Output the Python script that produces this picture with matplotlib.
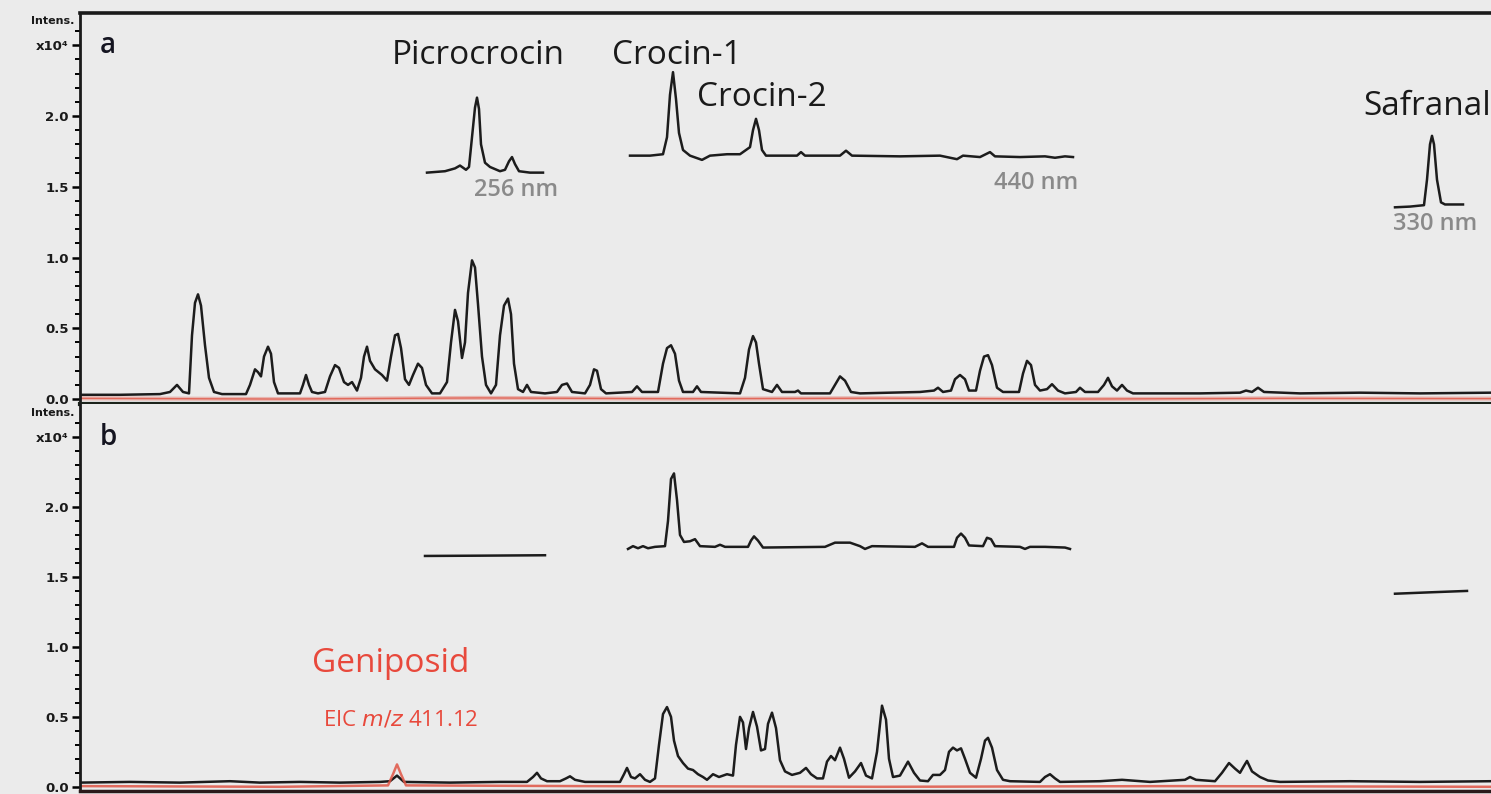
import matplotlib
matplotlib.use("Agg")
import matplotlib.pyplot as plt

# --- data (retention time in min, intensity x10^4) ---
# panel a, TIC (black)
a_tic_t = [0.0, 2.0, 4.0, 4.5, 4.85, 5.15, 5.45, 5.6, 5.75, 5.9, 6.05, 6.25, 6.45, 6.7, 7.1,
           8.3, 8.5, 8.75, 8.9, 9.05, 9.2, 9.4, 9.55, 9.7, 9.9,
           11.0, 11.15, 11.3, 11.45, 11.6, 11.9, 12.25, 12.5, 12.75, 12.95, 13.2, 13.4, 13.6, 13.85,
           14.05, 14.2, 14.35, 14.5, 14.75, 15.1, 15.35, 15.55, 15.75, 15.9, 16.05, 16.25, 16.45,
           16.65, 16.9, 17.1, 17.3, 17.6, 18.0, 18.35, 18.55, 18.75, 18.9, 19.1, 19.25, 19.4, 19.6,
           19.75, 19.9, 20.1, 20.3, 20.55, 20.8, 21.0, 21.2, 21.4, 21.55, 21.7, 21.9, 22.15, 22.35,
           22.55, 23.25, 23.85, 24.1, 24.35, 24.6, 25.25, 25.5, 25.7, 25.85, 26.05, 26.3,
           27.6, 27.85, 28.1, 28.9, 29.15, 29.35, 29.55, 29.75, 29.95, 30.15, 30.65, 30.85, 31.05,
           33.0, 33.25, 33.45, 33.65, 33.8, 33.95, 34.15, 34.6, 34.85, 35.1, 35.75, 35.9, 36.05,
           37.5, 37.75, 38.0, 38.25, 38.55, 39.0, 42.0, 42.7, 42.9, 43.15, 43.55, 43.75, 44.0,
           44.25, 44.45, 44.8, 45.0, 45.2, 45.4, 45.6, 45.85, 46.15, 46.95, 47.15, 47.35, 47.55,
           47.75, 48.0, 48.35, 48.6, 48.9, 49.25, 49.8, 50.0, 50.25, 50.9, 51.2, 51.4, 51.6, 51.85,
           52.1, 52.35, 52.65, 56.0, 58.0, 58.3, 58.6, 58.9, 59.2, 61.0, 64.0, 67.0, 70.55]
a_tic_i = [0.03, 0.03, 0.035, 0.05, 0.10, 0.05, 0.04, 0.45, 0.68, 0.74, 0.66, 0.38, 0.15, 0.05, 0.035,
           0.035, 0.10, 0.21, 0.19, 0.16, 0.30, 0.37, 0.32, 0.12, 0.04,
           0.04, 0.10, 0.17, 0.10, 0.05, 0.04, 0.05, 0.16, 0.24, 0.22, 0.12, 0.10, 0.12, 0.06,
           0.15, 0.30, 0.37, 0.27, 0.21, 0.17, 0.13, 0.30, 0.45, 0.46, 0.36, 0.14, 0.10,
           0.17, 0.25, 0.22, 0.10, 0.04, 0.04, 0.12, 0.40, 0.63, 0.55, 0.29, 0.40, 0.75, 0.98,
           0.93, 0.67, 0.30, 0.10, 0.04, 0.10, 0.45, 0.66, 0.71, 0.60, 0.25, 0.07, 0.05, 0.10,
           0.05, 0.04, 0.05, 0.10, 0.11, 0.05, 0.04, 0.10, 0.21, 0.20, 0.07, 0.04,
           0.05, 0.09, 0.05, 0.05, 0.25, 0.36, 0.38, 0.32, 0.13, 0.05, 0.05, 0.09, 0.05,
           0.04, 0.15, 0.35, 0.445, 0.40, 0.25, 0.07, 0.05, 0.10, 0.05, 0.05, 0.06, 0.04,
           0.04, 0.10, 0.16, 0.13, 0.05, 0.04, 0.05, 0.06, 0.08, 0.05, 0.06, 0.14, 0.17,
           0.14, 0.06, 0.06, 0.20, 0.30, 0.31, 0.24, 0.08, 0.05, 0.05, 0.18, 0.27, 0.24,
           0.10, 0.06, 0.07, 0.105, 0.06, 0.04, 0.05, 0.08, 0.05, 0.05, 0.10, 0.15, 0.09, 0.06,
           0.10, 0.06, 0.04, 0.04, 0.045, 0.06, 0.05, 0.08, 0.05, 0.04, 0.045, 0.04, 0.045]

# panel a, EIC (red, flat)
a_eic_t = [0.0, 10.0, 20.0, 30.0, 40.0, 50.0, 60.0, 70.55]
a_eic_i = [0.005, 0.0, 0.008, 0.002, 0.006, 0.0, 0.005, 0.003]

# panel a, UV insets (offset traces)
a_uv256_t = [17.35, 18.25, 18.75, 19.0, 19.3, 19.45, 19.6, 19.75, 19.85, 19.95, 20.05, 20.25,
             20.5, 21.0, 21.25, 21.45, 21.6, 21.75, 21.95, 22.5, 23.15]
a_uv256_i = [1.60, 1.61, 1.63, 1.65, 1.62, 1.64, 1.85, 2.06, 2.13, 2.05, 1.80, 1.67,
             1.64, 1.61, 1.62, 1.68, 1.71, 1.66, 1.61, 1.60, 1.60]
a_uv440_t = [27.5, 28.5, 29.15, 29.35, 29.5, 29.65, 29.8, 29.95, 30.15, 30.5, 31.1, 31.5, 32.35,
             33.0, 33.5, 33.65, 33.8, 33.95, 34.1, 34.3, 35.85, 36.05, 36.25, 38.0, 38.3, 38.6,
             41.0, 43.0, 43.85, 44.15, 45.0, 45.5, 45.75, 47.0, 48.25, 48.75, 49.25, 49.65]
a_uv440_i = [1.72, 1.72, 1.73, 1.85, 2.15, 2.31, 2.12, 1.88, 1.76, 1.72, 1.69, 1.72, 1.73,
             1.73, 1.78, 1.90, 1.98, 1.90, 1.76, 1.72, 1.72, 1.745, 1.72, 1.72, 1.755, 1.72,
             1.715, 1.72, 1.695, 1.72, 1.71, 1.745, 1.715, 1.71, 1.715, 1.705, 1.715, 1.71]
a_uv330_t = [65.75, 66.5, 67.2, 67.35, 67.5, 67.6, 67.7, 67.85, 68.05, 68.25, 69.15]
a_uv330_i = [1.355, 1.36, 1.37, 1.55, 1.80, 1.86, 1.80, 1.55, 1.39, 1.375, 1.375]

# panel b, TIC (black)
b_tic_t = [0.0, 2.5, 5.0, 7.5, 9.0, 11.0, 13.0, 15.0, 15.5, 15.85, 16.2, 18.5, 21.0, 22.35, 22.65,
           22.85, 23.05, 23.35, 24.0, 24.3, 24.5, 24.75, 25.25, 27.0, 27.2, 27.35, 27.55, 27.75,
           28.0, 28.25, 28.5, 28.75, 28.95, 29.15, 29.35, 29.55, 29.7, 29.9, 30.15, 30.4, 30.65,
           30.9, 31.15, 31.35, 31.65, 31.95, 32.35, 32.65, 32.8, 33.0, 33.15, 33.3, 33.45, 33.65,
           33.85, 34.05, 34.25, 34.4, 34.6, 34.8, 35.0, 35.25, 35.6, 36.0, 36.3, 36.55, 36.85,
           37.15, 37.35, 37.55, 37.75, 38.0, 38.2, 38.45, 38.75, 39.05, 39.3, 39.6, 39.85, 40.1,
           40.3, 40.45, 40.65, 41.0, 41.4, 41.7, 42.0, 42.4, 42.65, 43.0, 43.25, 43.45, 43.65,
           43.85, 44.05, 44.25, 44.5, 44.8, 45.05, 45.25, 45.4, 45.6, 45.85, 46.15, 46.5, 48.0,
           48.25, 48.5, 48.75, 49.0, 51.0, 52.1, 53.5, 55.25, 55.5, 55.8, 56.75, 57.1, 57.45,
           57.75, 58.0, 58.2, 58.35, 58.6, 59.0, 59.4, 60.0, 63.5, 67.0, 70.55]
b_tic_i = [0.03, 0.035, 0.03, 0.04, 0.03, 0.035, 0.03, 0.035, 0.04, 0.08, 0.035, 0.03, 0.035, 0.035, 0.07,
           0.10, 0.06, 0.04, 0.04, 0.06, 0.075, 0.05, 0.035, 0.035, 0.09, 0.135, 0.07, 0.06,
           0.09, 0.05, 0.035, 0.06, 0.30, 0.52, 0.57, 0.50, 0.33, 0.22, 0.17, 0.13, 0.12,
           0.09, 0.07, 0.05, 0.09, 0.07, 0.09, 0.08, 0.30, 0.50, 0.46, 0.27, 0.42, 0.535,
           0.43, 0.26, 0.27, 0.45, 0.53, 0.42, 0.19, 0.11, 0.085, 0.10, 0.135, 0.09, 0.06,
           0.06, 0.18, 0.22, 0.19, 0.28, 0.20, 0.065, 0.11, 0.17, 0.08, 0.06, 0.25, 0.58,
           0.48, 0.20, 0.07, 0.08, 0.18, 0.10, 0.045, 0.04, 0.085, 0.085, 0.12, 0.25, 0.28,
           0.26, 0.275, 0.20, 0.10, 0.065, 0.20, 0.33, 0.35, 0.28, 0.12, 0.05, 0.04, 0.035,
           0.07, 0.09, 0.06, 0.035, 0.04, 0.05, 0.035, 0.05, 0.07, 0.05, 0.04, 0.10, 0.17,
           0.13, 0.10, 0.15, 0.185, 0.11, 0.07, 0.045, 0.035, 0.04, 0.035, 0.04]

# panel b, EIC m/z 411.12 (red) with the geniposide peak
b_eic_t = [0.0, 10.0, 15.4, 15.65, 15.85, 16.05, 16.3, 25.0, 40.0, 55.0, 70.55]
b_eic_i = [0.005, 0.0, 0.01, 0.09, 0.16, 0.09, 0.01, 0.005, 0.0, 0.005, 0.0]

# panel b, UV insets
b_uv256_t = [17.25, 20.0, 23.25]
b_uv256_i = [1.65, 1.652, 1.655]
b_uv440_t = [27.4, 27.65, 27.9, 28.15, 28.4, 28.75, 29.25, 29.4, 29.55, 29.7, 29.85, 30.0, 30.2,
             30.5, 30.75, 31.0, 31.75, 32.0, 32.25, 33.4, 33.55, 33.7, 33.9, 34.15, 37.25, 37.75,
             38.5, 39.0, 39.25, 39.6, 41.75, 42.1, 42.4, 43.7, 43.85, 44.05, 44.25, 44.45, 45.15,
             45.35, 45.55, 45.75, 47.0, 47.25, 47.5, 48.25, 49.25, 49.5]
b_uv440_i = [1.70, 1.72, 1.705, 1.72, 1.705, 1.715, 1.72, 1.90, 2.20, 2.24, 2.05, 1.80, 1.75,
             1.755, 1.77, 1.72, 1.715, 1.73, 1.715, 1.715, 1.76, 1.79, 1.76, 1.71, 1.715, 1.745,
             1.745, 1.72, 1.70, 1.72, 1.715, 1.74, 1.715, 1.715, 1.78, 1.81, 1.78, 1.725, 1.72,
             1.78, 1.77, 1.72, 1.715, 1.70, 1.715, 1.715, 1.71, 1.70]
b_uv330_t = [65.75, 67.5, 69.35]
b_uv330_i = [1.38, 1.39, 1.40]

ytick_vals = [0.0, 0.5, 1.0, 1.5, 2.0, 2.5]
ytick_labels = ['0.0', '0.5', '1.0', '1.5', '2.0', 'x10⁴']

# --- figure ---
bg = '#ebebeb'
W, H = 1491, 794
fig = plt.figure(figsize=(W / 100, H / 100), dpi=100, facecolor=bg)

left = 80 / W
ax_a = fig.add_axes([left, 1 - 404 / H, 1 - left, (404 - 13) / H])
ax_b = fig.add_axes([left, 1 - 791 / H, 1 - left, (791 - 404) / H])

trace_col = '#1c1c1c'
red = '#e05545'
txt_font = 'Open Sans'
line_kw = dict(color=trace_col, lw=1.8, solid_joinstyle='round')

for ax, ylim in ((ax_a, (-0.035, 2.728)), (ax_b, (-0.03, 2.736))):
    ax.set_facecolor(bg)
    ax.set_xlim(0, 70.55)
    ax.set_ylim(*ylim)
    ax.set_xticks([])
    ax.set_yticks(ytick_vals)
    ax.set_yticklabels(ytick_labels, fontsize=9.5, fontweight='bold', color='#1a1a1a')
    ax.set_yticks([v / 10 for v in range(0, 27)], minor=True)
    ax.tick_params(axis='y', which='major', length=6, width=1.8, pad=2, direction='out')
    ax.tick_params(axis='y', which='minor', length=3.5, width=1.4, direction='out')
    ax.spines['right'].set_visible(False)
    ax.spines['left'].set_linewidth(2)
    ax.spines['left'].set_color('#1a1a1a')
    ax.text(-0.004, 2.67, 'Intens.', transform=ax.get_yaxis_transform(),
            ha='right', va='center', fontsize=8, fontweight='bold', color='#1a1a1a')

ax_a.spines['top'].set_linewidth(2.6)
ax_a.spines['top'].set_color('#1a1a1a')
ax_a.spines['bottom'].set_linewidth(3)
ax_a.spines['bottom'].set_color('#1b231b')
ax_b.spines['top'].set_visible(False)
ax_b.spines['bottom'].set_linewidth(2.5)
ax_b.spines['bottom'].set_color('#2a1a1a')

# traces
ax_a.plot(a_eic_t, a_eic_i, color=red, lw=3.0, alpha=0.35)
ax_a.plot(a_eic_t, a_eic_i, color=red, lw=1.0, alpha=0.8)
ax_a.plot(a_tic_t, a_tic_i, **line_kw)
for t, i in ((a_uv256_t, a_uv256_i), (a_uv440_t, a_uv440_i), (a_uv330_t, a_uv330_i)):
    ax_a.plot(t, i, **line_kw)

ax_b.plot(b_tic_t, b_tic_i, **line_kw)
ax_b.plot(b_eic_t, b_eic_i, color=red, lw=1.8, alpha=0.85, solid_joinstyle='round')
for t, i in ((b_uv256_t, b_uv256_i), (b_uv440_t, b_uv440_i), (b_uv330_t, b_uv330_i)):
    ax_b.plot(t, i, **line_kw)

# panel letters
ax_a.text(1.0, 2.5, 'a', fontsize=20, fontweight='semibold', family=txt_font,
          color='#141420', ha='left', va='center')
ax_b.text(1.0, 2.5, 'b', fontsize=20, fontweight='semibold', family=txt_font,
          color='#141420', ha='left', va='center')

# compound labels
lab = dict(fontsize=24, family=txt_font, color='#1a1a1a', ha='center', va='center')
ax_a.text(19.9, 2.43, 'Picrocrocin', **lab)
ax_a.text(29.85, 2.43, 'Crocin-1', **lab)
ax_a.text(34.1, 2.13, 'Crocin-2', **lab)
ax_a.text(67.35, 2.07, 'Safranal', **lab)

wl = dict(fontsize=17, family=txt_font, color='#8a8a8a', fontweight='semibold',
          ha='center', va='center')
ax_a.text(21.8, 1.48, '256 nm', **wl)
ax_a.text(47.8, 1.53, '440 nm', **wl)
ax_a.text(67.75, 1.24, '330 nm', **wl)

ax_b.text(15.55, 0.88, 'Geniposid', fontsize=24, family=txt_font, color='#e8493c',
          ha='center', va='center')
ax_b.text(16.05, 0.48, r'EIC $\mathit{m/z}$ 411.12', fontsize=16, family=txt_font,
          color='#e8493c', ha='center', va='center')

fig.savefig('out.png', dpi=100, facecolor=bg)
